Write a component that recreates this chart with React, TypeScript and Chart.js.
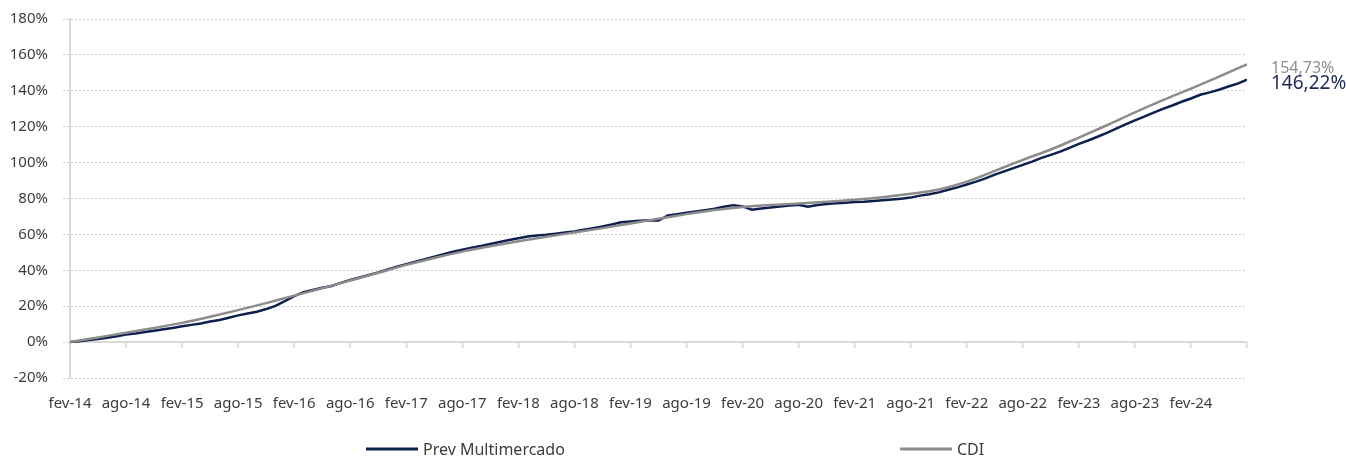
import React, { useEffect, useRef } from 'react';
import { Chart, registerables } from 'chart.js';

Chart.register(...registerables);

// Semiannual tick labels (one per 6 months, starting fev-14)
const xTickLabels = [
  'fev-14', 'ago-14', 'fev-15', 'ago-15', 'fev-16', 'ago-16', 'fev-17', 'ago-17',
  'fev-18', 'ago-18', 'fev-19', 'ago-19', 'fev-20', 'ago-20', 'fev-21', 'ago-21',
  'fev-22', 'ago-22', 'fev-23', 'ago-23', 'fev-24',
];

const seriesNames = ['Prev Multimercado', 'CDI'];

// Prev Multimercado, cumulative %, monthly from fev-14 (index = month)
const prevMultimercado = [
  0, 0.5, 1.1, 1.7, 2.4, 3.2, 4.2, 4.8, 5.6, 6.3, 7.1, 7.9,
  8.8, 9.6, 10.4, 11.5, 12.3, 13.6, 14.9, 15.9, 16.9, 18.4, 20.2, 22.8,
  25.6, 27.8, 29.0, 30.3, 31.3, 33.0, 34.6, 36.0, 37.4, 38.8, 40.5, 42.0,
  43.4, 44.8, 46.2, 47.6, 48.9, 50.3, 51.4, 52.6, 53.5, 54.6, 55.8, 56.9,
  57.9, 58.8, 59.4, 59.8, 60.4, 61.0, 61.6, 62.6, 63.5, 64.4, 65.5, 66.8,
  67.2, 67.6, 67.9, 67.7, 70.6, 71.3, 72.0, 72.8, 73.5, 74.3, 75.4, 76.3,
  75.6, 73.8, 74.4, 75.0, 75.6, 76.1, 76.5, 75.4, 76.4, 77.0, 77.4, 77.7,
  78.0, 78.2, 78.6, 79.0, 79.4, 79.9, 80.5, 81.6, 82.4, 83.4, 84.9, 86.2,
  87.8, 89.4, 91.2, 93.3, 95.1, 96.9, 98.7, 100.5, 102.6, 104.3, 106.1, 108.2,
  110.4, 112.3, 114.4, 116.6, 118.9, 121.3, 123.5, 125.6, 127.8, 129.9, 131.8, 133.9,
  135.7, 137.8, 139.1, 140.6, 142.4, 144.0, 146.22,
];

// CDI, cumulative %, quarterly from fev-14
const cdiQuarterly = [
  0, 2.6, 5.2, 7.9, 10.7, 14.1, 17.8, 21.7, 25.9, 30.0,
  34.3, 38.6, 43.0, 46.9, 50.4, 53.4, 56.2, 58.7, 61.1, 63.5,
  66.1, 68.7, 71.3, 73.6, 75.3, 76.4, 77.2, 78.2, 79.3, 80.7,
  82.6, 85.0, 89.4, 95.4, 101.5, 107.3, 113.9, 120.8, 128.0, 134.8,
  141.2, 147.9, 154.73,
];

const Y_MIN = -20;
const Y_MAX = 180;
const Y_STEP = 20;
const X_MAX_MONTH = 126;
const X_STEP = 6;

const FONT = "'Noto Sans', sans-serif";
const NAVY = '#0c1f4f';
const GRAY = '#8c8c8c';
const TEXT = '#3c3c3c';
const AXIS = '#d9d9d9';
const GRID = '#d0d0d0';

const endLabels = {
  id: 'endLabels',
  afterDatasetsDraw(chart: any) {
    const ctx = chart.ctx;
    ctx.save();
    chart.data.datasets.forEach((ds: any, i: number) => {
      const meta = chart.getDatasetMeta(i);
      const pt = meta.data[meta.data.length - 1];
      const v = ds.data[ds.data.length - 1].y as number;
      const text = v.toFixed(2).replace('.', ',') + '%';
      ctx.font = i === 0 ? `19px ${FONT}` : `16px ${FONT}`;
      ctx.fillStyle = i === 0 ? '#1c2a57' : '#8e8e8e';
      ctx.textAlign = 'left';
      ctx.textBaseline = 'alphabetic';
      ctx.fillText(text, pt.x + 24, pt.y + 9);
    });
    ctx.restore();
  },
};

const legendXs = [366, 900];
const customLegend = {
  id: 'customLegend',
  afterDraw(chart: any) {
    const ctx = chart.ctx;
    ctx.save();
    chart.data.datasets.forEach((ds: any, i: number) => {
      const x = legendXs[i];
      ctx.fillStyle = ds.borderColor;
      ctx.fillRect(x, 447.5, 52, 3);
      ctx.font = `16px ${FONT}`;
      ctx.fillStyle = TEXT;
      ctx.textAlign = 'left';
      ctx.textBaseline = 'alphabetic';
      ctx.fillText(ds.label, x + 57, 455);
    });
    ctx.restore();
  },
};

export default function App() {
  const ref = useRef<HTMLCanvasElement | null>(null);

  useEffect(() => {
    document.body.style.margin = '0';
    document.body.style.overflow = 'hidden';
    if (!ref.current) return;
    const chart = new Chart(ref.current, {
      type: 'line',
      data: {
        datasets: [
          {
            label: seriesNames[0],
            data: prevMultimercado.map((v, i) => ({ x: i, y: v })),
            borderColor: NAVY,
            backgroundColor: NAVY,
            borderWidth: 2.5,
            pointRadius: 0,
            tension: 0,
            order: 2,
          },
          {
            label: seriesNames[1],
            data: cdiQuarterly.map((v, i) => ({ x: i * 3, y: v })),
            borderColor: GRAY,
            backgroundColor: GRAY,
            borderWidth: 2.5,
            pointRadius: 0,
            cubicInterpolationMode: 'monotone',
            order: 1,
          },
        ],
      },
      options: {
        responsive: false,
        animation: false,
        layout: { padding: { top: 19, right: 99, bottom: 27, left: 0 } },
        plugins: { legend: { display: false }, tooltip: { enabled: false } },
        scales: {
          x: {
            type: 'linear',
            min: 0,
            max: X_MAX_MONTH,
            position: 'bottom',
            grid: { display: false, drawTicks: false },
            border: { display: false },
            ticks: {
              stepSize: X_STEP,
              autoSkip: false,
              maxRotation: 0,
              padding: 17,
              color: TEXT,
              font: { family: FONT, size: 15 },
              callback: (v: any) => xTickLabels[Math.round(Number(v) / X_STEP)] ?? '',
            },
          },
          x0: {
            type: 'linear',
            axis: 'x',
            min: 0,
            max: X_MAX_MONTH,
            position: { y: 0 },
            grid: { drawOnChartArea: false, drawTicks: true, tickLength: 5, color: AXIS, lineWidth: 1.5 },
            border: { display: true, color: AXIS, width: 2 },
            ticks: { display: false, stepSize: X_STEP },
            afterFit: (s: any) => { s.height = 0; },
          },
          y: {
            min: Y_MIN,
            max: Y_MAX,
            afterFit: (s: any) => { s.width = 70; s.paddingTop = 0; s.paddingBottom = 0; },
            grid: {
              color: GRID,
              lineWidth: 1,
              drawTicks: true,
              tickLength: 7,
              tickBorderDash: [2, 2],
              tickColor: GRID,
            },
            border: { display: true, color: AXIS, width: 2, dash: [2, 2] },
            ticks: {
              stepSize: Y_STEP,
              padding: 15,
              color: TEXT,
              font: { family: FONT, size: 15 },
              callback: (v: any) => `${v}%`,
            },
          },
        },
      } as any,
      plugins: [endLabels, customLegend],
    });
    return () => chart.destroy();
  }, []);

  return (
    <div style={{ width: 1346, height: 457, position: 'relative', overflow: 'hidden', background: '#fff' }}>
      <canvas ref={ref} width={1346} height={457} style={{ display: 'block' }} />
    </div>
  );
}
